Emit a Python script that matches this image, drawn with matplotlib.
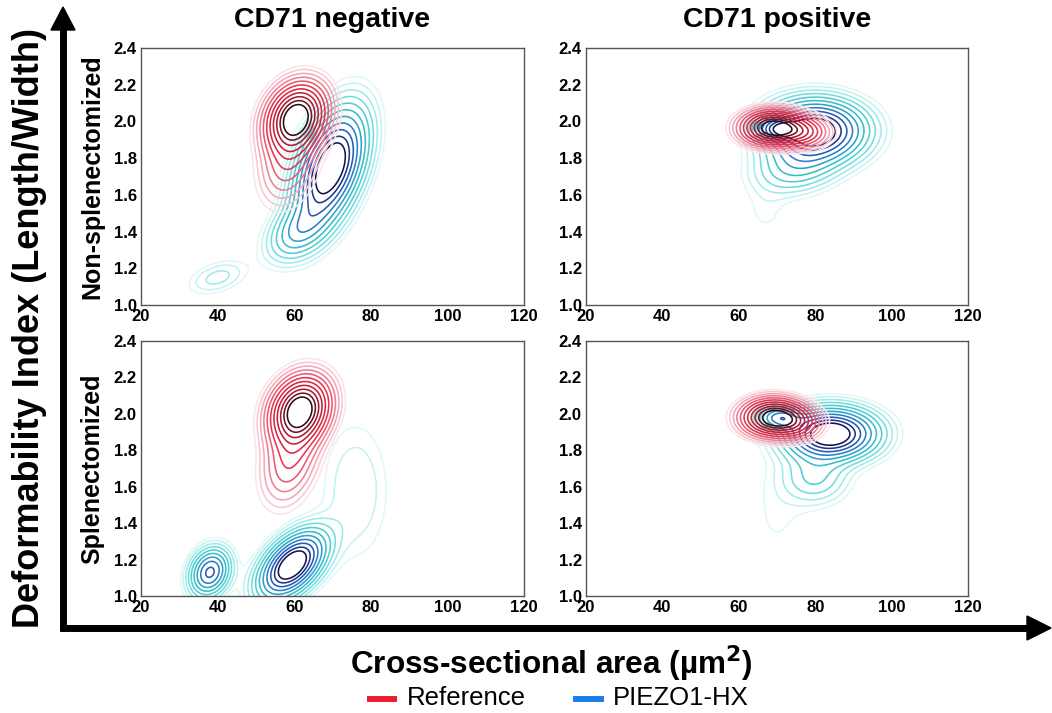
import numpy as np
import matplotlib
matplotlib.use("Agg")
import matplotlib.pyplot as plt
from matplotlib.colors import LinearSegmentedColormap
from matplotlib.lines import Line2D

# ---------------- data ----------------
# Each density is described by mixture components:
# (mean area um2, mean deformability index, sd area, sd DI, correlation, weight)
col_titles = ["CD71 negative", "CD71 positive"]
row_titles = ["Non-splenectomized", "Splenectomized"]
x_ticks = [20, 40, 60, 80, 100, 120]
y_ticks = [1.0, 1.2, 1.4, 1.6, 1.8, 2.0, 2.2, 2.4]
series_names = ["Reference", "PIEZO1-HX"]

ref_neg_nonsplen = [(60.5, 2.02, 4.6, 0.11, 0.20, 1.0),
                    (58.5, 1.78, 4.5, 0.14, 0.25, 0.30)]
hx_neg_nonsplen = [(69.5, 1.75, 5.5, 0.19, 0.45, 1.0),
                   (61.0, 1.40, 5.0, 0.10, 0.40, 0.15),
                   (40.0, 1.15, 5.0, 0.06, 0.40, 0.03)]
ref_pos_nonsplen = [(69.0, 1.965, 4.8, 0.055, 0.00, 1.0),
                    (77.0, 1.940, 4.0, 0.050, 0.00, 0.25)]
hx_pos_nonsplen = [(80.0, 1.95, 7.8, 0.10, 0.00, 1.0),
                   (70.0, 1.96, 3.5, 0.04, 0.00, 0.08),
                   (75.0, 1.75, 7.0, 0.09, 0.20, 0.20),
                   (67.0, 1.50, 4.0, 0.10, 0.00, 0.02)]
ref_neg_splen = [(61.5, 2.02, 4.6, 0.11, 0.20, 1.0),
                 (59.0, 1.75, 4.5, 0.15, 0.30, 0.35)]
hx_neg_splen = [(59.5, 1.17, 5.2, 0.11, 0.50, 1.0),
                (38.0, 1.13, 3.2, 0.08, 0.20, 0.30),
                (76.0, 1.58, 6.0, 0.26, 0.00, 0.26)]
ref_pos_splen = [(69.0, 1.98, 4.8, 0.060, 0.00, 1.0),
                 (75.0, 1.95, 4.0, 0.055, 0.00, 0.25)]
hx_pos_splen = [(84.0, 1.89, 7.3, 0.085, 0.00, 1.0),
                (70.5, 1.98, 3.5, 0.04, 0.00, 0.10),
                (80.0, 1.65, 5.5, 0.09, 0.00, 0.15),
                (70.0, 1.45, 6.0, 0.22, 0.00, 0.08)]

panels = [[(ref_neg_nonsplen, hx_neg_nonsplen), (ref_pos_nonsplen, hx_pos_nonsplen)],
          [(ref_neg_splen, hx_neg_splen), (ref_pos_splen, hx_pos_splen)]]

# ---------------- helpers ----------------
def mixture(comps, X, Y):
    Z = np.zeros_like(X)
    for mx, my, sx, sy, r, w in comps:
        dx = (X - mx) / sx
        dy = (Y - my) / sy
        q = (dx**2 - 2*r*dx*dy + dy**2) / (1 - r**2)
        Z += w * np.exp(-0.5*q) / (2*np.pi*sx*sy*np.sqrt(1 - r**2))
    return Z

# contour levels: evenly spaced "radii" of a gaussian, from outer to inner
level_frac = np.exp(-0.5 * np.linspace(2.6, 0.7, 11)**2)

red_cmap = LinearSegmentedColormap.from_list(
    "redk", ["#fbe4ea", "#f5b3c2", "#ee7088", "#e6354f", "#d21f3b", "#a3182d", "#2e0e16"])
blue_cmap = LinearSegmentedColormap.from_list(
    "bluek", ["#e2f8f8", "#b0eeee", "#62d8d8", "#36c0c8", "#2b8ccb", "#2450b4", "#141452"])

xg = np.linspace(20, 120, 400)
yg = np.linspace(1.0, 2.4, 400)
X, Y = np.meshgrid(xg, yg)

# ---------------- figure ----------------
fig = plt.figure(figsize=(10.52, 7.13), dpi=100)
plt.rcParams['font.family'] = ['Liberation Sans', 'DejaVu Sans']

W, H = 1052.0, 713.0
ax_px = [[(141, 48, 524, 305), (586, 48, 968, 305)],
         [(141, 341, 524, 596), (586, 341, 968, 596)]]

for r in range(2):
    for c in range(2):
        x0, y0, x1, y1 = ax_px[r][c]
        ax = fig.add_axes([x0/W, 1 - y1/H, (x1-x0)/W, (y1-y0)/H])
        ref, hx = panels[r][c]
        for comps, cmap in ((hx, blue_cmap), (ref, red_cmap)):
            Z = mixture(comps, X, Y)
            lv = Z.max() * level_frac
            cols = [cmap(v) for v in np.linspace(0, 1, len(lv))]
            ax.contour(X, Y, Z, levels=lv, colors=cols, linewidths=1.15)
        ax.set_xlim(20, 120)
        ax.set_ylim(1.0, 2.4)
        ax.set_xticks(x_ticks)
        ax.set_yticks(y_ticks)
        ax.set_xticklabels([str(t) for t in x_ticks], fontsize=12, fontweight='bold')
        ax.set_yticklabels([f"{t:.1f}" for t in y_ticks], fontsize=12, fontweight='bold')
        ax.tick_params(length=0, pad=3)
        for s in ax.spines.values():
            s.set_color('#555555')
            s.set_linewidth(1.0)
        if r == 0:
            fig.text(((x0+x1)/2)/W, 1 - 20/H, col_titles[c], ha='center', va='center',
                     fontsize=20.5, fontweight='bold')
    fig.text(92/W, 1 - ((ax_px[r][0][1]+ax_px[r][0][3])/2)/H, row_titles[r],
             rotation=90, ha='center', va='center', fontsize=18, fontweight='bold')

# big arrows
fig.add_artist(Line2D([63/W, 63/W], [1-631/H, 1-28/H], transform=fig.transFigure,
                      color='black', lw=5, solid_capstyle='butt'))
fig.add_artist(Line2D([60/W, 1030/W], [1-628/H, 1-628/H], transform=fig.transFigure,
                      color='black', lw=5, solid_capstyle='butt'))
fig.add_artist(plt.Polygon([[51/W, 1-30/H], [75/W, 1-30/H], [63/W, 1-7/H]],
                           closed=True, transform=fig.transFigure, color='black'))
fig.add_artist(plt.Polygon([[1027/W, 1-616/H], [1027/W, 1-640/H], [1051/W, 1-628/H]],
                           closed=True, transform=fig.transFigure, color='black'))

fig.text(30/W, 1 - 328/H, "Deformability Index (Length/Width)", rotation=90,
         ha='center', va='center', fontsize=26, fontweight='bold')
fig.text(551/W, 1 - 663/H, "Cross-sectional area (\u00b5m$^\\mathbf{2}$)", ha='center', va='center',
         fontsize=22.7, fontweight='bold')

# legend
fig.add_artist(Line2D([367/W, 397/W], [1-699/H, 1-699/H], transform=fig.transFigure,
                      color='#ee1c2e', lw=4.3, solid_capstyle='butt'))
fig.text(407/W, 1 - 698/H, series_names[0], ha='left', va='center', fontsize=18.5)
fig.add_artist(Line2D([573/W, 604/W], [1-699/H, 1-699/H], transform=fig.transFigure,
                      color='#1b7fe8', lw=4.3, solid_capstyle='butt'))
fig.text(613/W, 1 - 698/H, series_names[1], ha='left', va='center', fontsize=18.5)

fig.savefig("out.png", dpi=100)
